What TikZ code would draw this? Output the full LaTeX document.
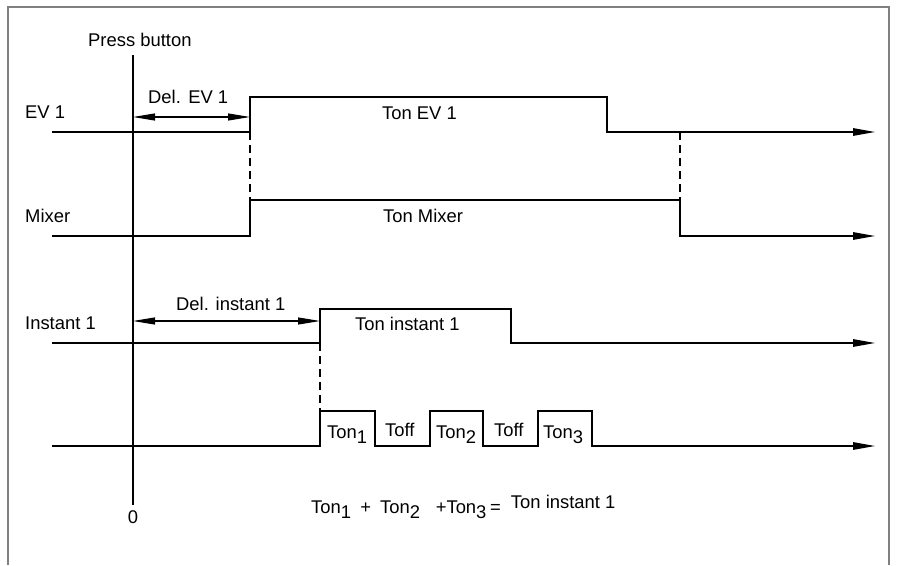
\documentclass[tikz,border=0pt]{standalone}
\usepackage{fontspec}
\setmainfont{Liberation Sans}
\usetikzlibrary{arrows.meta}
\newcommand\dnsub[1]{\raisebox{-5pt}{#1}}
\begin{document}
\begin{tikzpicture}[x=1pt,y=-1pt,
  sig/.style={line width=1.3pt, black},
  sigarrow/.style={sig,-{Triangle[length=22pt,width=7.5pt]}},
  dimarrow/.style={line width=1.1pt,{Triangle[length=22pt,width=7pt]}-{Triangle[length=22pt,width=7pt]}},
  guide/.style={line width=1.1pt, dash pattern=on 8pt off 5pt},
  lbl/.style={font=\fontsize{18.4}{21}\selectfont, inner sep=0pt, anchor=base west},
  frame/.style={line width=2pt, black!50}]
\useasboundingbox (0,0) rectangle (897,565);
% frame
\coordinate (fbl) at (8,565); \coordinate (ftl) at (8,7);
\coordinate (ftr) at (889,7); \coordinate (fbr) at (889,565);
\draw[frame] (fbl) -- (ftl) -- (ftr) -- (fbr);
% time zero
\coordinate (t0top) at (133,55); \coordinate (t0bot) at (133,505);
\draw[sig, line width=1.1pt] (t0top) -- (t0bot);
\node[lbl, anchor=base] (zero) at (133,523) {0};
\node[lbl] (press) at (88,46) {Press button};
% EV 1
\coordinate (e0) at (52,132); \coordinate (e1) at (250,132);
\coordinate (e2) at (250,97); \coordinate (e3) at (607,97);
\coordinate (e4) at (607,132); \coordinate (e5) at (875,132);
\draw[sigarrow] (e0) -- (e1) -- (e2) -- (e3) -- (e4) -- (e5);
\node[lbl] (lev) at (25,118.5) {EV 1};
\node[lbl] (tev) at (382,119) {Ton EV 1};
\coordinate (d1a) at (133,117); \coordinate (d1b) at (250,117);
\draw[dimarrow] (d1a) -- (d1b);
\node[lbl] (delev) at (148,103) {Del.\hspace{0.4em}EV 1};
% Mixer
\coordinate (m0) at (52,236); \coordinate (m1) at (250,236);
\coordinate (m2) at (250,200); \coordinate (m3) at (680,200);
\coordinate (m4) at (680,236); \coordinate (m5) at (875,236);
\draw[sigarrow] (m0) -- (m1) -- (m2) -- (m3) -- (m4) -- (m5);
\node[lbl] (lmix) at (25,222) {Mixer};
\node[lbl] (tmix) at (383,222.5) {Ton Mixer};
\draw[guide] (e1) -- (m2);
\coordinate (g2) at (680,132);
\draw[guide] (g2) -- (m3);
% Instant 1
\coordinate (i0) at (52,343); \coordinate (i1) at (320,343);
\coordinate (i2) at (320,309); \coordinate (i3) at (511,309);
\coordinate (i4) at (511,343); \coordinate (i5) at (875,343);
\draw[sigarrow] (i0) -- (i1) -- (i2) -- (i3) -- (i4) -- (i5);
\node[lbl] (linst) at (25,329) {Instant 1};
\node[lbl] (tinst) at (355,330.5) {Ton instant 1};
\coordinate (d2a) at (133,321); \coordinate (d2b) at (320,321);
\draw[dimarrow] (d2a) -- (d2b);
\node[lbl] (delinst) at (176,310) {Del. instant 1};
% pulse train
\coordinate (p0) at (52,446);
\coordinate (p1) at (320,446); \coordinate (p2) at (320,411);
\coordinate (p3) at (375,411); \coordinate (p4) at (375,446);
\coordinate (p5) at (430,446); \coordinate (p6) at (430,411);
\coordinate (p7) at (483,411); \coordinate (p8) at (483,446);
\coordinate (p9) at (538,446); \coordinate (p10) at (538,411);
\coordinate (p11) at (592,411); \coordinate (p12) at (592,446);
\coordinate (p13) at (875,446);
\draw[sigarrow] (p0) -- (p1) -- (p2) -- (p3) -- (p4) -- (p5) -- (p6) -- (p7) -- (p8) -- (p9) -- (p10) -- (p11) -- (p12) -- (p13);
\draw[guide] (i1) -- (p2);
\node[lbl] (ton1) at (327,438) {Ton\dnsub{1}};
\node[lbl] (toff1) at (385,436) {Toff};
\node[lbl] (ton2) at (436,438) {Ton\dnsub{2}};
\node[lbl] (toff2) at (494,436) {Toff};
\node[lbl] (ton3) at (543,438) {Ton\dnsub{3}};
% formula
\node[lbl] (formula) at (311,513) {Ton\dnsub{1}\hspace{0.5em}+\hspace{0.5em}Ton\dnsub{2}\hspace{0.85em}+Ton\dnsub{3}\hspace{0.2em}=\hspace{0.55em}\raisebox{5pt}{Ton instant 1}};
\end{tikzpicture}
\end{document}
